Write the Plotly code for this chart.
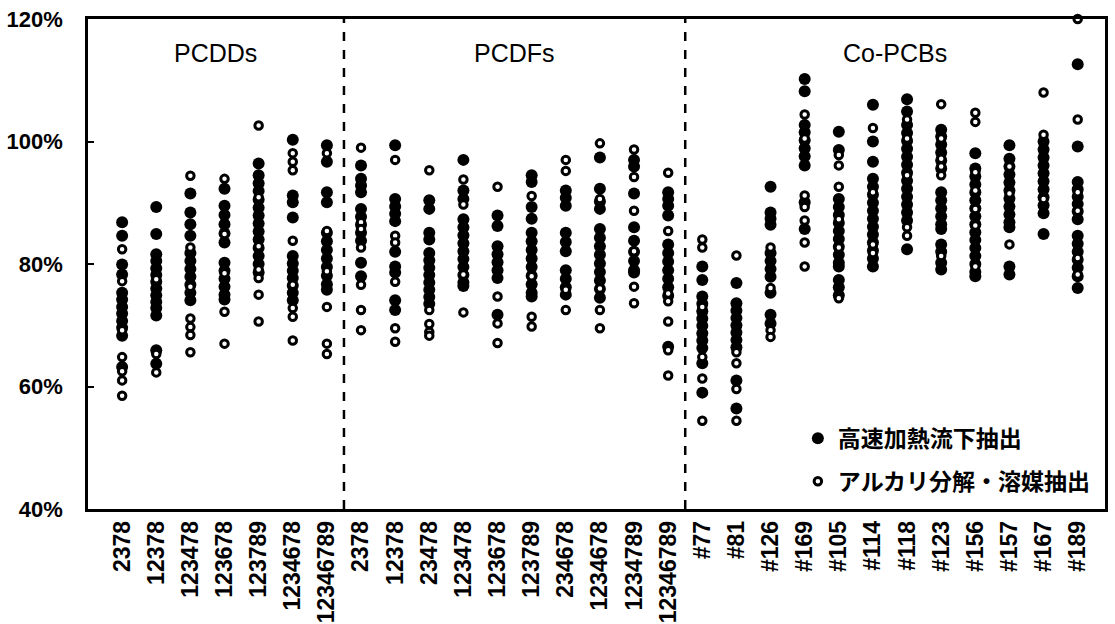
import plotly.graph_objects as go

# ---------------- data ----------------
pcdd_labels = ["2378", "12378", "123478", "123678", "123789", "1234678", "12346789"]
pcdf_labels = ["2378", "12378", "23478", "123478", "123678", "123789", "234678",
               "1234678", "1234789", "12346789"]
pcb_labels = ["#77", "#81", "#126", "#169", "#105", "#114", "#118", "#123",
              "#156", "#157", "#167", "#189"]
group_names = ["PCDDs", "PCDFs", "Co-PCBs"]

# 高速加熱流下抽出 (filled)
pcdd_fast = [
    [86.8, 84.6, 79.9, 78.3, 75.3, 74.2, 73.0, 71.9, 70.7, 69.6, 68.3, 63.2],
    [89.3, 84.9, 81.6, 80.5, 79.3, 78.2, 77.1, 76.0, 74.9, 73.8, 72.8, 71.6, 65.9, 63.7],
    [91.5, 88.4, 86.5, 84.6, 81.8, 80.5, 79.2, 77.9, 76.6, 75.3, 74.1],
    [92.3, 89.5, 88.0, 86.5, 85.0, 83.5, 80.2, 78.9, 77.6, 76.3, 75.0, 74.2],
    [96.4, 94.5, 93.2, 91.9, 90.5, 89.2, 87.9, 86.6, 85.3, 84.0, 82.6, 81.3, 80.0, 78.6],
    [100.3, 91.2, 90.1, 87.6, 81.3, 80.1, 78.9, 77.7, 76.5, 75.3, 74.1],
    [99.4, 96.7, 91.7, 90.1, 85.1, 83.7, 82.3, 80.9, 79.5, 78.1, 76.7, 75.8],
]
pcdf_fast = [
    [96.1, 93.9, 92.8, 91.7, 89.0, 87.7, 86.4, 85.1, 83.8, 80.2, 78.0],
    [99.4, 90.6, 89.4, 88.2, 87.0, 82.0, 79.6, 78.6, 74.1, 72.5],
    [90.4, 89.0, 85.1, 84.0, 81.8, 80.6, 79.4, 78.2, 77.0, 75.8, 74.6, 73.5],
    [97.0, 92.0, 90.6, 87.3, 86.0, 84.7, 83.4, 82.1, 80.8, 79.5, 78.2, 77.0, 76.4],
    [87.9, 86.2, 82.9, 81.6, 80.3, 79.0, 77.7, 71.7],
    [94.5, 93.4, 89.3, 87.4, 85.1, 83.7, 82.3, 80.9, 79.5, 78.1, 76.7, 75.3, 74.7],
    [92.0, 90.8, 89.5, 85.1, 83.6, 82.1, 79.0, 77.6, 76.2, 75.0],
    [97.4, 92.3, 90.2, 89.0, 85.7, 84.3, 82.9, 81.5, 80.1, 78.7, 77.3, 75.9, 74.5],
    [97.0, 95.9, 91.5, 86.0, 83.8, 82.0, 80.5, 79.0, 78.6],
    [91.7, 90.6, 89.5, 87.9, 83.2, 81.8, 80.4, 79.0, 77.6, 76.2, 74.8, 66.5],
]
pcb_fast = [
    [79.6, 77.4, 74.7, 73.5, 72.3, 71.1, 69.9, 68.7, 67.5, 66.3, 63.8, 59.0],
    [76.9, 73.6, 72.4, 71.2, 70.0, 68.8, 67.6, 66.4, 61.0, 56.4],
    [92.6, 88.4, 87.4, 86.4, 81.8, 80.5, 79.2, 77.9, 75.3, 71.7, 70.3],
    [110.2, 108.2, 102.7, 101.5, 100.2, 98.9, 97.6, 96.1, 90.1, 85.7],
    [101.6, 98.6, 90.6, 89.3, 88.0, 86.7, 85.4, 84.1, 82.8, 81.5, 80.2, 79.6, 77.4, 76.2, 74.9],
    [106.0, 100.0, 96.7, 93.9, 92.6, 91.3, 90.0, 88.7, 87.4, 86.1, 84.8, 83.5, 82.2, 80.9, 79.6],
    [106.9, 104.9, 102.7, 101.4, 100.1, 98.8, 97.5, 96.2, 94.9, 93.6, 92.3, 91.0, 89.7, 88.4, 87.1, 82.4],
    [101.9, 100.8, 99.5, 98.2, 96.9, 95.6, 91.7, 90.4, 89.1, 87.8, 86.5, 85.7, 83.2, 82.0, 80.2, 79.1],
    [98.1, 95.6, 94.3, 93.0, 91.7, 90.4, 89.1, 87.8, 86.5, 85.2, 83.9, 82.6, 81.3, 80.0, 78.7, 78.0],
    [99.4, 97.2, 95.9, 94.6, 93.3, 92.0, 90.7, 89.4, 88.1, 86.8, 86.0, 79.6, 78.3],
    [100.0, 98.7, 97.4, 96.1, 94.8, 93.5, 92.2, 90.9, 89.6, 88.3, 84.9],
    [112.6, 99.2, 93.4, 92.2, 91.0, 89.8, 88.6, 87.3, 84.6, 83.3, 82.0, 80.7, 79.4, 78.0, 76.1],
]

# アルカリ分解・溶媒抽出 (open)
pcdd_alk = [
    [82.4, 77.2, 69.2, 64.8, 62.5, 61.0, 58.5],
    [77.5, 65.3, 62.3],
    [94.4, 82.7, 76.3, 71.1, 69.7, 68.4, 65.6],
    [93.9, 84.9, 78.5, 72.2, 67.0],
    [102.6, 90.9, 82.9, 79.1, 77.7, 75.0, 70.6],
    [98.1, 96.7, 95.3, 83.8, 76.6, 72.8, 71.4, 67.5],
    [98.1, 85.4, 78.8, 73.0, 67.0, 65.3],
]
pcdf_alk = [
    [99.0, 86.8, 85.7, 82.7, 76.6, 72.5, 69.2],
    [97.0, 84.6, 83.5, 77.1, 69.5, 67.3],
    [95.3, 72.5, 70.2, 68.9, 68.3],
    [93.8, 89.7, 78.3, 72.1],
    [92.6, 74.7, 70.3, 67.1],
    [91.1, 78.0, 71.4, 69.8],
    [97.0, 95.2, 75.8, 72.5],
    [99.7, 90.6, 76.0, 72.5, 69.5],
    [98.7, 94.2, 88.7, 82.1, 76.3, 73.6],
    [94.9, 85.4, 75.2, 73.9, 70.6, 65.9, 61.8],
]
pcb_alk = [
    [84.0, 82.7, 73.0, 64.8, 61.3, 54.4],
    [81.4, 65.6, 63.8, 59.6, 54.4],
    [82.7, 76.1, 69.2, 68.1],
    [104.4, 100.5, 91.2, 89.3, 87.1, 83.5, 79.6],
    [97.8, 96.1, 92.6, 87.3, 82.7, 74.4],
    [102.2, 91.7, 83.2, 81.8],
    [103.6, 100.5, 94.5, 86.0, 84.6],
    [106.1, 100.5, 97.2, 95.9, 94.5, 81.3],
    [104.7, 103.2, 95.0, 92.0, 89.0, 86.3, 79.6],
    [95.9, 91.5, 83.2],
    [108.0, 101.1, 90.6],
    [120.0, 103.6, 91.7, 88.7, 81.0, 78.3],
]

y_ticks = [40, 60, 80, 100, 120]
y_ticktext = ["40%", "60%", "80%", "100%", "120%"]

# ---------------- build ----------------
labels = pcdd_labels + pcdf_labels + pcb_labels
fast_all = pcdd_fast + pcdf_fast + pcb_fast
alk_all = pcdd_alk + pcdf_alk + pcb_alk


def flatten(groups):
    xs, ys = [], []
    for i, vals in enumerate(groups):
        for v in vals:
            xs.append(i)
            ys.append(v)
    return xs, ys


fx, fy = flatten(fast_all)
ax, ay = flatten(alk_all)

fig = go.Figure()
fig.add_trace(go.Scatter(
    x=fx, y=fy, mode="markers", name="高速加熱流下抽出", legendgroup="a",
    marker=dict(symbol="circle", size=12, color="black", line=dict(width=0)),
    cliponaxis=False,
))
fig.add_trace(go.Scatter(
    x=ax, y=ay, mode="markers", name="アルカリ分解・溶媒抽出", legendgroup="b",
    marker=dict(symbol="circle", size=7.5, color="white", line=dict(width=3, color="black")),
    cliponaxis=False,
))

sizes = [len(pcdd_labels), len(pcdf_labels), len(pcb_labels)]
x_min, x_max = -1.0, len(labels) - 0.2
bounds = [x_min]
acc = 0
for s in sizes[:-1]:
    acc += s
    bounds.append(acc - 0.5)
bounds.append(x_max)

shapes = []
for b in bounds[1:-1]:
    shapes.append(dict(type="line", xref="x", yref="paper", x0=b, x1=b, y0=0, y1=1,
                       line=dict(color="black", width=2.5, dash="dash")))

annotations = []
for g, name in enumerate(group_names):
    cx = (bounds[g] + bounds[g + 1]) / 2
    annotations.append(dict(x=cx, y=0.931, xref="x", yref="paper", text=name,
                            showarrow=False, xanchor="center", yanchor="middle",
                            font=dict(family="Liberation Sans, Arial", size=25, color="black")))

fig.update_layout(
    width=1115, height=624,
    margin=dict(l=88, r=10, t=19, b=115),
    plot_bgcolor="white", paper_bgcolor="white",
    showlegend=True,
    legend=dict(x=0.698, y=0.188, xanchor="left", yanchor="top",
                bgcolor="rgba(0,0,0,0)", borderwidth=0, traceorder="grouped",
                font=dict(family="Noto Sans CJK JP", size=23, color="black", weight="bold"),
                tracegroupgap=10),
    shapes=shapes,
    annotations=annotations,
)
fig.update_xaxes(
    range=[x_min, x_max], tickmode="array", tickvals=list(range(len(labels))),
    ticktext=labels, tickangle=-90, ticks="", showgrid=False, zeroline=False,
    showline=True, linecolor="black", linewidth=2.5, mirror=True, automargin=False,
    tickfont=dict(family="Liberation Sans, Arial", size=23, color="black", weight="bold"),
)
fig.update_yaxes(
    range=[40, 120], tickmode="array", tickvals=y_ticks, ticktext=y_ticktext,
    ticks="inside", ticklen=6, tickwidth=2, tickcolor="black",
    showgrid=False, zeroline=False, automargin=False,
    showline=True, linecolor="black", linewidth=2.5, mirror=True,
    ticklabelstandoff=18,
    tickfont=dict(family="Liberation Sans, Arial", size=22, color="black", weight="bold"),
)

fig.write_html("out.html")
